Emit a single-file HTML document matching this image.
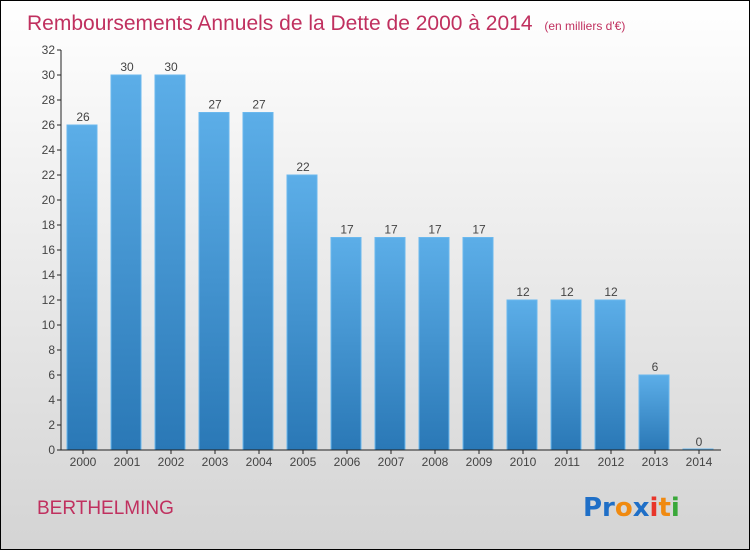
<!DOCTYPE html>
<html><head><meta charset="utf-8"><style>
body{margin:0}
#c{width:748px;height:548px;border:1px solid #000;background:linear-gradient(#ffffff,#f2f2f2 30%,#d4d4d4);position:relative;font-family:"Liberation Sans",sans-serif;overflow:hidden}
</style></head><body>
<div id="c">
<svg width="748" height="548" id="svg">
<defs><linearGradient id="bg" x1="0" y1="0" x2="0" y2="1"><stop offset="0" stop-color="#5caee8"/><stop offset="1" stop-color="#2a78b6"/></linearGradient></defs>
<text x="26" y="29" font-size="21" fill="#c0305f">Remboursements Annuels de la Dette de 2000 à 2014 <tspan font-size="12" dx="6">(en milliers d'€)</tspan></text>
<g id="plot"></g>
<text x="36" y="513" font-size="19" fill="#c0305f">BERTHELMING</text>
<text x="582" y="515" font-size="26" font-weight="bold" font-family="'DejaVu Sans',sans-serif"><tspan fill="#1f6fc7">Pr</tspan><tspan fill="#f08a10">o</tspan><tspan fill="#1f6fc7">x</tspan><tspan fill="#e8352a">i</tspan><tspan fill="#f08a10">t</tspan><tspan fill="#3aa83a">i</tspan></text>
</svg>
</div>
<script>
const years=["2000","2001","2002","2003","2004","2005","2006","2007","2008","2009","2010","2011","2012","2013","2014"];
const values=[26,30,30,27,27,22,17,17,17,17,12,12,12,6,0];
const yTicks=[0,2,4,6,8,10,12,14,16,18,20,22,24,26,28,30,32];
const NS="http://www.w3.org/2000/svg";
const g=document.getElementById('plot');
const x0=60,slot=44,y0=449,yMax=32,ph=400;
const ys=v=>y0-v/yMax*ph;
function mk(t,a){const e=document.createElementNS(NS,t);for(const k in a)e.setAttribute(k,a[k]);g.appendChild(e);return e;}
yTicks.forEach(t=>{
 const l=mk('line',{x1:x0-4,x2:x0,y1:ys(t),y2:ys(t),stroke:'#222'});
 
 
 const tx=mk('text',{x:x0-6,y:ys(t)+4,'text-anchor':'end','font-size':12,fill:'#444'});
 tx.textContent=t;
 
 
});
years.forEach((yr,i)=>{
 const v=values[i],xs=x0+i*slot;
 const h=Math.max(v/yMax*ph,1);
 const r=mk('rect',{x:xs+6,y:y0-h,width:30,height:h,fill:'url(#bg)',stroke:'#6ab8ee','stroke-width':1});
 
 
 const vl=mk('text',{x:xs+22,y:ys(v)-4,'text-anchor':'middle','font-size':12,fill:'#444'});
 vl.textContent=v;
 
 
 const tk=mk('line',{x1:xs+22,x2:xs+22,y1:y0,y2:y0+4,stroke:'#222'});
 
 
 const xl=mk('text',{x:xs+22,y:y0+16,'text-anchor':'middle','font-size':12,fill:'#444'});
 xl.textContent=yr;
 
 
});
const ya=mk('line',{x1:x0,x2:x0,y1:y0-ph,y2:y0,stroke:'#222'});


const xa=mk('line',{x1:x0,x2:x0+years.length*slot,y1:y0,y2:y0,stroke:'#222'});


</script>
</body></html>
